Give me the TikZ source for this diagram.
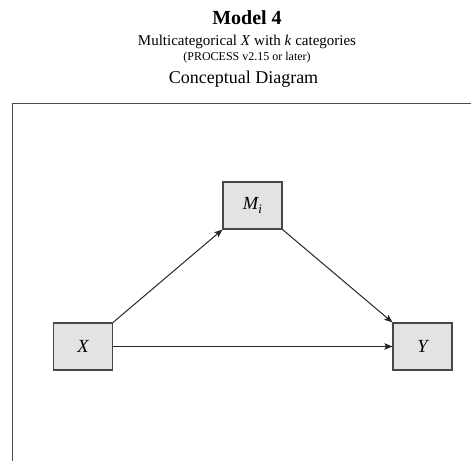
\documentclass[tikz,border=0pt]{standalone}
\usepackage{fontspec}
\setmainfont{Liberation Serif}
\usetikzlibrary{arrows.meta}
\begin{document}
\begin{tikzpicture}[x=1pt,y=-1pt,
  varbox/.style={draw=black!72,line width=1.2pt,fill=black!11,minimum width=59pt,minimum height=47pt,inner sep=0pt,font=\fontsize{18.5}{22}\selectfont\itshape},
  link/.style={draw=black!85,line width=1pt,-{Stealth[length=8pt,width=6.5pt,inset=1.5pt]}},
  frameline/.style={draw=black!70,line width=1pt}]
\useasboundingbox (0,0) rectangle (471,461);
\node[anchor=base,font=\fontsize{20}{24}\selectfont\bfseries] (title) at (247,24) {Model 4};
\node[anchor=base,font=\fontsize{15}{18}\selectfont] (sub) at (247,45) {Multicategorical \textit{X} with \textit{k} categories};
\node[anchor=base,font=\fontsize{12}{14}\selectfont] (proc) at (247,60) {(PROCESS v2.15 or later)};
\node[anchor=base,font=\fontsize{18}{22}\selectfont] (concept) at (243.5,83) {Conceptual Diagram};
\coordinate (fbl) at (12,461);
\coordinate (ftl) at (12,103);
\coordinate (ftr) at (471,103);
\draw[frameline] (fbl) -- (ftl) -- (ftr);
\node[varbox] (M) at (252.5,205.5) {M\raisebox{-0.4ex}{\fontsize{13}{15}\selectfont i}};
\node[varbox] (X) at (83,346.5) {X};
\node[varbox] (Y) at (422.5,346.5) {Y};
\draw[link] (X.north east) -- (M.south west);
\draw[link] (M.south east) -- (Y.north west);
\draw[link] (X.east) -- (Y.west);
\end{tikzpicture}
\end{document}
